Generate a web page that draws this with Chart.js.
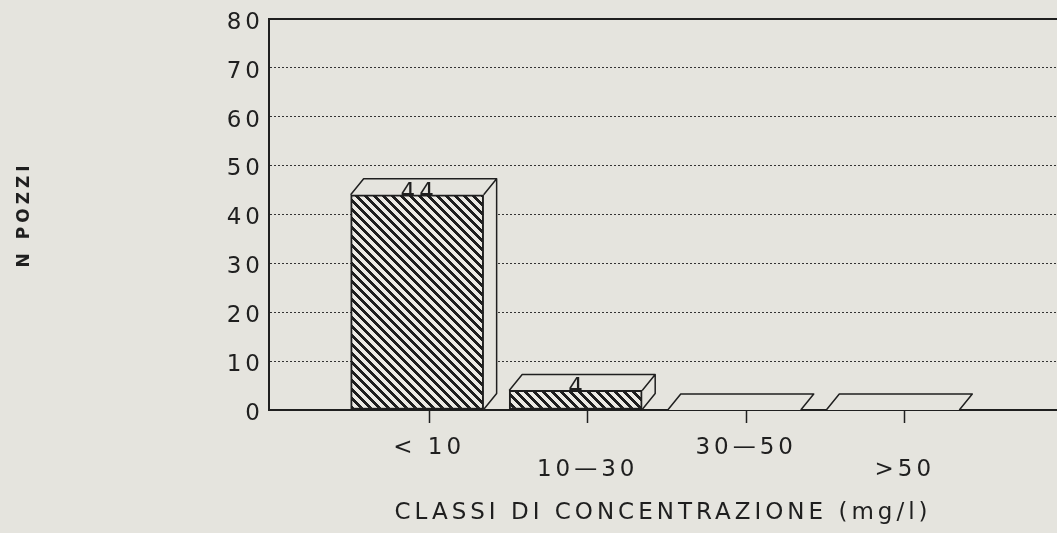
<!DOCTYPE html>
<html><head><meta charset="utf-8">
<script src="https://cdn.jsdelivr.net/npm/chart.js@4/dist/chart.umd.min.js"></script>
<style>html,body{margin:0;padding:0;background:#e5e4de;} #wrap{width:1057px;height:533px;position:relative}</style>
</head><body><div id="wrap"><canvas id="c"></canvas></div>
<script>
const categories = ['< 10', '10—30', '30—50', '>50'];
const counts = [44, 4, 0, 0];
const yMin = 0, yMax = 80, yStep = 10;
const xTitle = 'CLASSI DI CONCENTRAZIONE (mg/l)';
const yTitle = 'N POZZI';

const INK = '#1f1f1f';
const PAPER = '#e5e4de';
const FONT = 'DejaVu Sans';
const DX = 13, DY = 16, SHIFT = -12;

const canvas = document.getElementById('c');
const mainCtx = canvas.getContext('2d');

function hatch() {
  const s = 9, w = 4;
  const c = document.createElement('canvas');
  c.width = s; c.height = s;
  const g = c.getContext('2d');
  const img = g.createImageData(s, s);
  for (let y = 0; y < s; y++) {
    for (let x = 0; x < s; x++) {
      const on = ((x - y) % s + s) % s < w;
      const o = (y * s + x) * 4;
      const v = on ? [30, 30, 30] : [236, 234, 228];
      img.data[o] = v[0]; img.data[o + 1] = v[1]; img.data[o + 2] = v[2]; img.data[o + 3] = 255;
    }
  }
  g.putImageData(img, 0, 0);
  return mainCtx.createPattern(c, 'repeat');
}

function geom(bar) {
  const p = bar.getProps(['x', 'y', 'base', 'width'], true);
  return { L: p.x - p.width / 2 + SHIFT, R: p.x + p.width / 2 + SHIFT, T: Math.min(p.y, p.base), B: p.base };
}

const bar3d = {
  id: 'bar3d',
  afterInit(chart) { chart.ctx.letterSpacing = '4px'; },
  beforeLayout(chart) { chart.ctx.letterSpacing = '4px'; },
  beforeDraw(chart) { chart.ctx.letterSpacing = '4px'; },
  beforeDatasetsDraw(chart) {
    const ctx = chart.ctx;
    const meta = chart.getDatasetMeta(0);
    ctx.save();
    meta.data.forEach((bar, i) => {
      const { L, R, T, B } = geom(bar);
      ctx.fillStyle = PAPER;
      ctx.beginPath();
      ctx.moveTo(L, T); ctx.lineTo(L + DX, T - DY); ctx.lineTo(R + DX, T - DY);
      ctx.lineTo(R + DX, B - DY); ctx.lineTo(R, B); ctx.lineTo(R, T); ctx.closePath();
      ctx.fill();
      if (counts[i] > 0) {
        ctx.fillStyle = INK;
        ctx.font = '23px ' + FONT;
        ctx.textAlign = 'center';
        ctx.textBaseline = 'alphabetic';
        ctx.fillText(String(counts[i]), (L + R) / 2 + 2, T + 4);
      }
    });
    ctx.restore();
  },
  beforeDatasetDraw(chart) { chart.ctx.save(); chart.ctx.translate(SHIFT, 0); },
  afterDatasetDraw(chart) { chart.ctx.restore(); },
  afterDatasetsDraw(chart) {
    const ctx = chart.ctx;
    const meta = chart.getDatasetMeta(0);
    ctx.save();
    ctx.strokeStyle = INK; ctx.lineWidth = 1.5; ctx.lineJoin = 'round';
    meta.data.forEach((bar) => {
      const { L, R, T, B } = geom(bar);
      ctx.beginPath();
      ctx.moveTo(L, T); ctx.lineTo(L + DX, T - DY); ctx.lineTo(R + DX, T - DY); ctx.lineTo(R, T);
      ctx.moveTo(R + DX, T - DY); ctx.lineTo(R + DX, B - DY); ctx.lineTo(R, B);
      ctx.stroke();
    });
    ctx.restore();
  }
};

new Chart(canvas, {
  type: 'bar',
  data: {
    datasets: [{
      data: counts.map((v, i) => ({ x: i + 1, y: v })),
      backgroundColor: hatch(),
      borderColor: INK,
      borderWidth: 2,
      borderSkipped: false,
      barThickness: 133
    }]
  },
  options: {
    responsive: true, maintainAspectRatio: false, animation: false,
    layout: { padding: { top: 18, right: 0, bottom: 0, left: 0 } },
    plugins: { legend: { display: false }, tooltip: { enabled: false } },
    scales: {
      x: {
        type: 'linear', min: -0.01, max: 4.96, offset: false,
        afterBuildTicks: s => { s.ticks = categories.map((c, i) => ({ value: i + 1 })); },
        afterFit: s => { s.height = 123; },
        ticks: {
          callback: (v) => { const i = Math.round(v) - 1; return i % 2 ? ['', categories[i]] : [categories[i], '']; },
          color: INK, font: { family: FONT, size: 23, lineHeight: '22px' },
          padding: 14, maxRotation: 0, autoSkip: false
        },
        grid: { offset: false, drawOnChartArea: false, drawTicks: true, tickLength: 13, tickColor: INK, tickWidth: 1.5 },
        border: { display: true, color: INK, width: 2 },
        title: { display: true, text: xTitle, color: INK, font: { family: FONT, size: 23 }, padding: { top: 0, bottom: 6 } }
      },
      y: {
        min: yMin, max: yMax,
        afterFit: s => { s.width = 269; },
        ticks: { stepSize: yStep, color: INK, font: { family: FONT, size: 23 }, padding: 5, labelOffset: 4 },
        grid: {
          drawTicks: false,
          color: c => (c.tick && c.tick.value === yMax) ? INK : '#333',
          lineWidth: c => (c.tick && c.tick.value === yMax) ? 2 : 1
        },
        border: { display: true, color: INK, width: 2, dash: c => (c.tick && c.tick.value > yMin && c.tick.value < yMax) ? [2, 2] : [] },
        title: { display: true, text: yTitle, color: INK, font: { family: FONT, size: 17, weight: 'bold' }, padding: { top: 14, bottom: 0 } }
      }
    }
  },
  plugins: [bar3d]
});
</script>
</body></html>
